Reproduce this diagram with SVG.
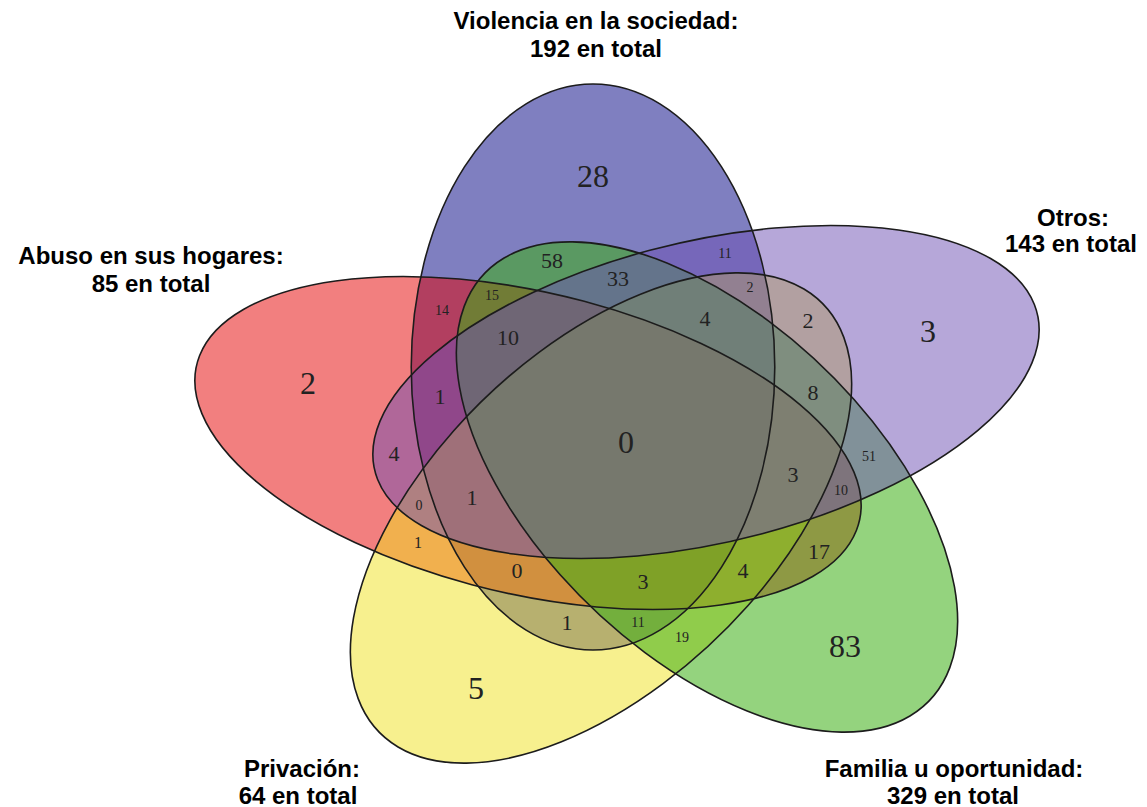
<svg xmlns="http://www.w3.org/2000/svg" width="1147" height="807" viewBox="0 0 1147 807">
<style>
.set{fill-opacity:0.5;stroke:none}
.outline{fill:none;stroke:#1c1c1c;stroke-width:1.6}
.n{font-family:"Liberation Serif","Times New Roman",serif;fill:#222;text-anchor:middle;dominant-baseline:central}
.big{font-size:32px}
.mid{font-size:22px}
.sm{font-size:14px}
.cat{font-family:"Liberation Sans",Arial,sans-serif;font-weight:bold;font-size:24px;fill:#000;text-anchor:middle}
</style>
<defs>
<ellipse id="e-blue" rx="149" ry="283" vector-effect="non-scaling-stroke" transform="translate(593,367) scale(1.22,1)"/>
<ellipse id="e-purple" rx="149" ry="283" vector-effect="non-scaling-stroke" transform="translate(706,392) scale(1.22,1) rotate(72)"/>
<ellipse id="e-green" rx="149" ry="283" vector-effect="non-scaling-stroke" transform="translate(707,487) scale(1.22,1) rotate(144)"/>
<ellipse id="e-yellow" rx="149" ry="283" vector-effect="non-scaling-stroke" transform="translate(601,518) scale(1.22,1) rotate(216)"/>
<ellipse id="e-red" rx="149" ry="283" vector-effect="non-scaling-stroke" transform="translate(528,443) scale(1.22,1) rotate(288)"/>
</defs>
<rect width="1147" height="807" fill="#fff"/>
<g id="set-violencia"><use href="#e-blue" class="set" fill="#000082"/></g>
<g id="set-abuso"><use href="#e-red" class="set" fill="#e60000"/></g>
<g id="set-privacion"><use href="#e-yellow" class="set" fill="#f0e11e"/></g>
<g id="set-familia"><use href="#e-green" class="set" fill="#3caf14" style="fill-opacity:0.55"/></g>
<g id="set-otros"><use href="#e-purple" class="set" fill="#6e50b4"/></g>
<g id="connectors">
<use href="#e-blue" class="outline"/>
<use href="#e-red" class="outline"/>
<use href="#e-yellow" class="outline"/>
<use href="#e-purple" class="outline"/>
<use href="#e-green" class="outline"/>
</g>
<g id="counts">
<text class="n big" x="593" y="176">28</text>
<text class="n big" x="928" y="331">3</text>
<text class="n big" x="308" y="383">2</text>
<text class="n big" x="626" y="442">0</text>
<text class="n big" x="845" y="646">83</text>
<text class="n big" x="476" y="688">5</text>
<text class="n mid" x="552" y="260">58</text>
<text class="n mid" x="618" y="278">33</text>
<text class="n mid" x="508" y="337">10</text>
<text class="n mid" x="705" y="318">4</text>
<text class="n mid" x="808" y="320">2</text>
<text class="n mid" x="440" y="396">1</text>
<text class="n mid" x="813" y="392">8</text>
<text class="n mid" x="394" y="453">4</text>
<text class="n mid" x="793" y="474">3</text>
<text class="n mid" x="472" y="497">1</text>
<text class="n mid" x="517" y="570">0</text>
<text class="n mid" x="643" y="581">3</text>
<text class="n mid" x="743" y="570">4</text>
<text class="n mid" x="819" y="551">17</text>
<text class="n mid" x="567" y="622">1</text>
<text class="n sm" x="725" y="253">11</text>
<text class="n sm" x="750" y="287">2</text>
<text class="n sm" x="442" y="310">14</text>
<text class="n sm" x="492" y="295">15</text>
<text class="n sm" x="869" y="456">51</text>
<text class="n sm" x="841" y="490">10</text>
<text class="n sm" x="419" y="505">0</text>
<text class="n sm" x="418" y="542" style="font-size:16px">1</text>
<text class="n sm" x="638" y="622">11</text>
<text class="n sm" x="682" y="637">19</text>
</g>
<g id="labels">
<text class="cat" x="596" y="29">Violencia en la sociedad:</text>
<text class="cat" x="596" y="57">192 en total</text>
<text class="cat" x="1073" y="226">Otros:</text>
<text class="cat" x="1071" y="252">143 en total</text>
<text class="cat" x="151" y="264">Abuso en sus hogares:</text>
<text class="cat" x="151" y="292">85 en total</text>
<text class="cat" x="302" y="777">Privación:</text>
<text class="cat" x="298" y="804">64 en total</text>
<text class="cat" x="954" y="777">Familia u oportunidad:</text>
<text class="cat" x="953" y="804">329 en total</text>
</g>
</svg>
